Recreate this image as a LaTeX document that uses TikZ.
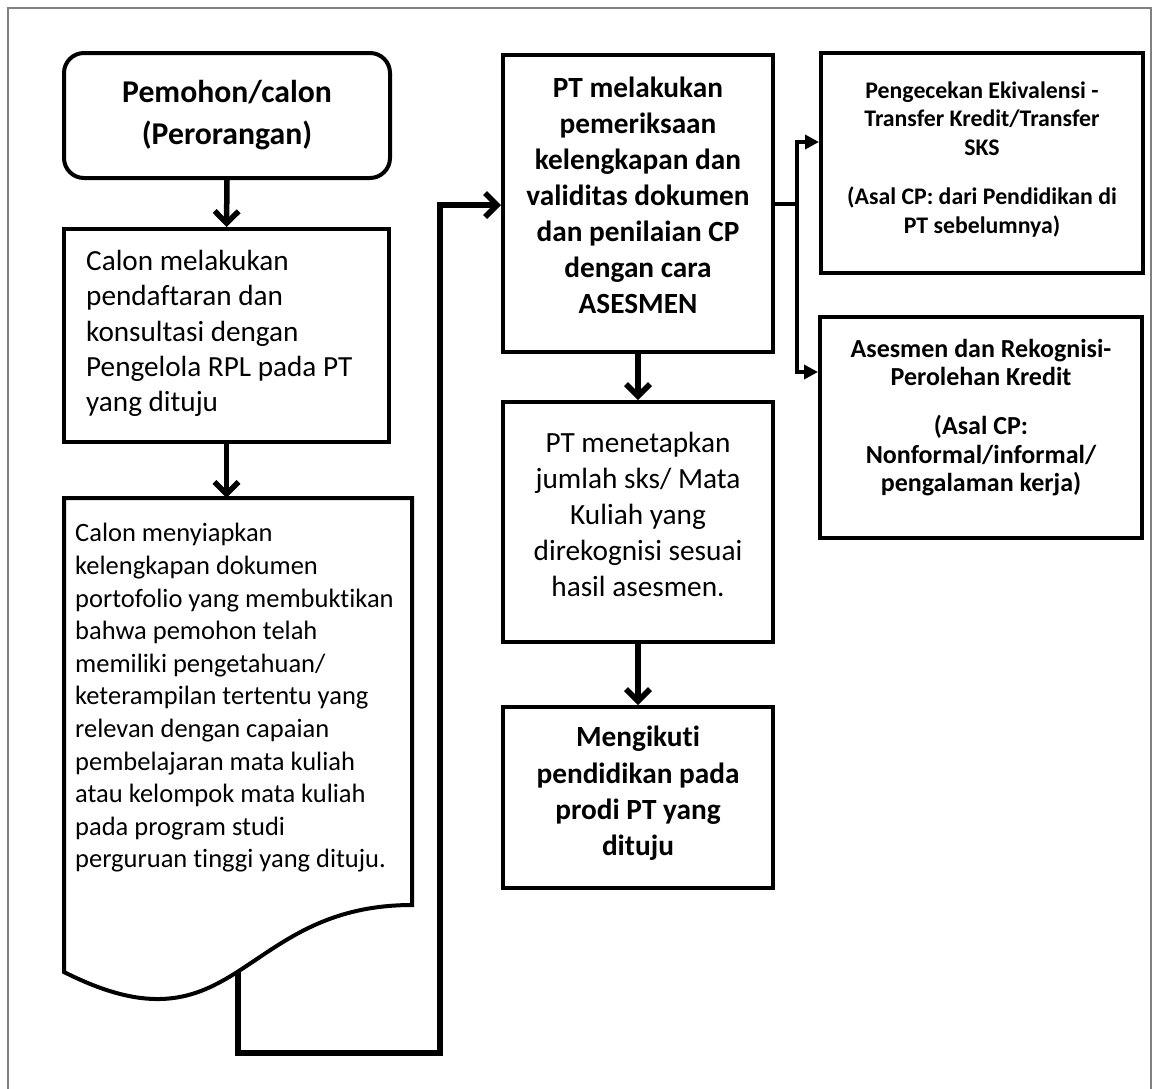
\documentclass[tikz,border=0pt]{standalone}
\usepackage{fontspec}
\setmainfont{Carlito}[Ligatures={NoCommon,NoContextual}]
\usetikzlibrary{arrows.meta}
\definecolor{framegray}{RGB}{128,128,128}
\begin{document}
\begin{tikzpicture}[x=1pt,y=-1pt,
  box/.style={draw=black, line width=4pt, rectangle, inner sep=0pt},
  txt/.style={inner sep=0pt, align=center},
  conn/.style={line width=5.5pt, -{Straight Barb[length=12pt,width=24pt]}},
  branch/.style={line width=3.5pt, -{Triangle[length=14pt,width=14pt]}},
]
\useasboundingbox (0,0) rectangle (1153,1088);
% frame
\draw[framegray, line width=2pt] (8,1095) -- (8,8) -- (1151,8) -- (1151,1095);

% boxes
\node[box, rounded corners=20pt, minimum width=326pt, minimum height=125pt] (start) at (227,115.5) {};
\node[box, minimum width=325pt, minimum height=213pt] (calon) at (226.5,335.5) {};
\node[inner sep=0pt, minimum width=348pt, minimum height=407pt] (doc) at (238,701.5) {};
\node[box, minimum width=270pt, minimum height=297pt] (pt) at (638,203.5) {};
\node[box, minimum width=270pt, minimum height=240pt] (sks) at (638,522) {};
\node[box, minimum width=270pt, minimum height=181pt] (ikut) at (638,797.5) {};
\node[box, minimum width=322pt, minimum height=220pt] (ekiv) at (982,163) {};
\node[box, minimum width=322pt, minimum height=221pt] (reko) at (981,427.5) {};

% document shape
\draw[line width=4pt, line join=miter] (64,498) -- (412,498) -- (412,905)
  .. controls (238,905) and (238,1060) .. coordinate[pos=0.5] (docmid) (64,972) -- cycle;

% texts
\node[txt, font=\fontsize{31.7}{42}\selectfont\bfseries] (startT) at (227,115)
  {Pemohon/calon\\(Perorangan)};
\node[txt, align=left, anchor=west, font=\fontsize{29.2}{35.3}\selectfont] (calonT) at (86,333.5)
  {Calon melakukan\\pendaftaran dan\\konsultasi dengan\\Pengelola RPL pada PT\\yang dituju};
\node[txt, align=left, anchor=west, font=\fontsize{26.5}{32.6}\selectfont] (docT) at (75,698)
  {Calon menyiapkan\\kelengkapan dokumen\\portofolio yang membuktikan\\bahwa pemohon telah\\memiliki pengetahuan/\\keterampilan tertentu yang\\relevan dengan capaian\\pembelajaran mata kuliah\\atau kelompok mata kuliah\\pada program studi\\perguruan tinggi yang dituju.};
\node[txt, font=\fontsize{29.3}{36}\selectfont\bfseries] (ptT) at (638,195.5)
  {PT melakukan\\pemeriksaan\\kelengkapan dan\\validitas dokumen\\dan penilaian CP\\dengan cara\\ASESMEN};
\node[txt, font=\fontsize{29.3}{35.8}\selectfont] (sksT) at (638,514.5)
  {PT menetapkan\\jumlah sks/ Mata\\Kuliah yang\\direkognisi sesuai\\hasil asesmen.};
\node[txt, font=\fontsize{29.3}{36.3}\selectfont\bfseries] (ikutT) at (638,793.5)
  {Mengikuti\\pendidikan pada\\prodi PT yang\\dituju};
\node[txt, font=\fontsize{23.8}{28.5}\selectfont\bfseries] (ekivT) at (982,159.5)
  {Pengecekan Ekivalensi -\\Transfer Kredit/Transfer\\SKS\\[21pt](Asal CP: dari Pendidikan di\\PT sebelumnya)};
\node[txt, font=\fontsize{26}{28.5}\selectfont\bfseries] (rekoT) at (981,417.5)
  {Asesmen dan Rekognisi-\\Perolehan Kredit\\[20.5pt](Asal CP:\\Nonformal/informal/\\pengalaman kerja)};

% connectors
\draw[conn] (start.south) -- (calon.north);
\draw[conn] (calon.south) -- (calon.south |- doc.north);
\coordinate (turnB) at (440,1053);
\coordinate (turnT) at (440,205);
\draw[conn, line join=miter] (docmid) |- (turnB) -- (turnT) -- (turnT -| pt.west);
\draw[conn] (pt.south) -- (sks.north);
\draw[conn] (sks.south) -- (ikut.north);
\coordinate (bj) at (797,204);
\draw[line width=3.5pt] (pt.east |- bj) -- (bj);
\draw[branch, line join=miter] (bj) |- (ekiv.west |- 0,142);
\draw[branch, line join=miter] (bj) |- (reko.west |- 0,372);
\end{tikzpicture}
\end{document}
